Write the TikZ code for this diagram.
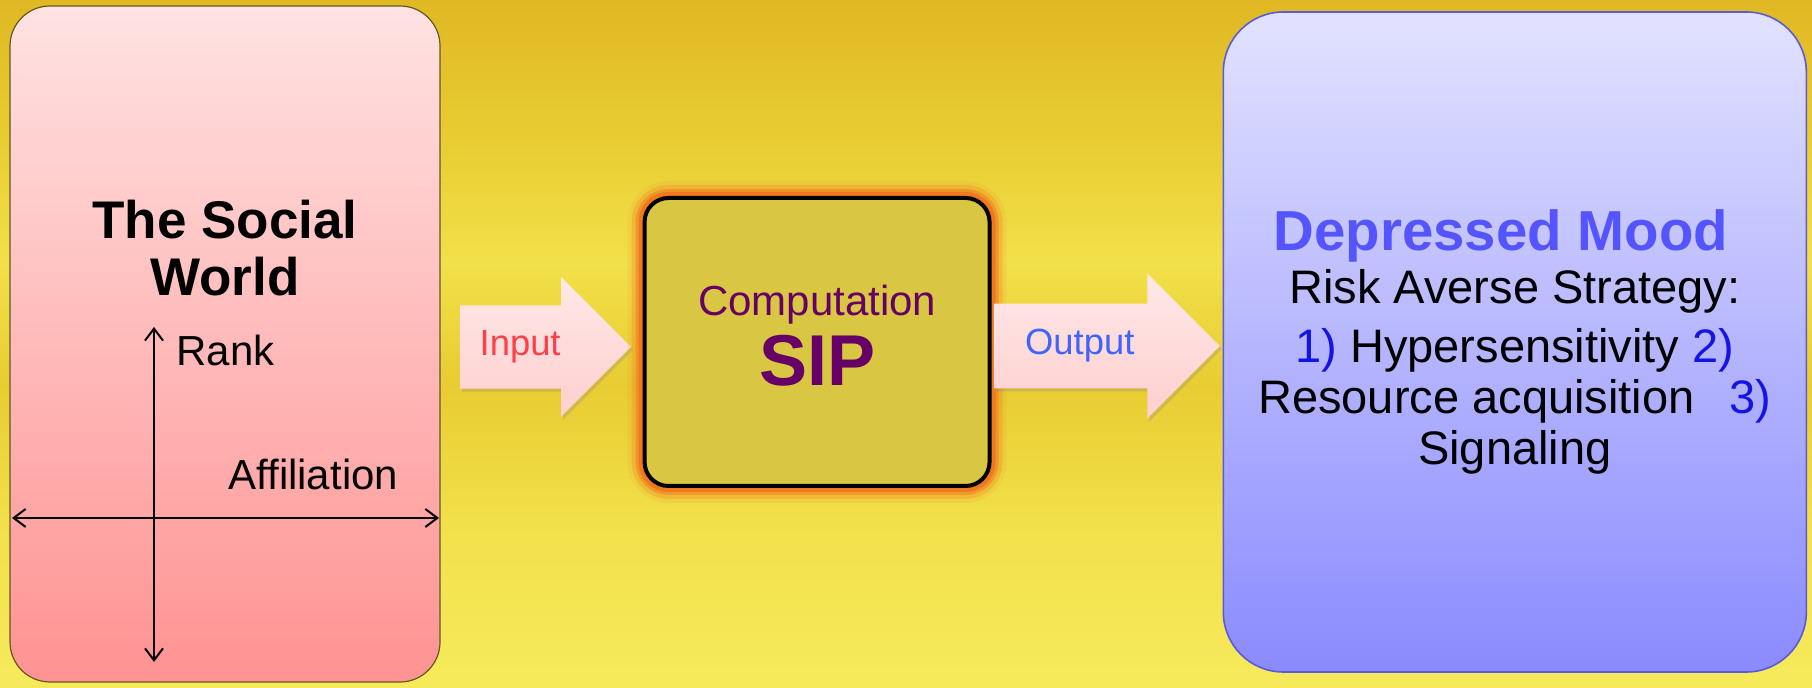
\documentclass[tikz,border=0pt]{standalone}
\usepackage{fontspec}
\setmainfont{Liberation Sans}
\usetikzlibrary{shapes, arrows, arrows.meta, positioning, shadows}

\definecolor{gold}{RGB}{224,184,36}
\definecolor{goldmid}{RGB}{232,204,50}
\definecolor{lemon}{RGB}{242,224,74}
\definecolor{lemonlow}{RGB}{246,234,92}
\definecolor{pinktop}{RGB}{255,226,226}
\definecolor{pinkbot}{RGB}{255,146,146}
\definecolor{lilactop}{RGB}{226,226,255}
\definecolor{lilacbot}{RGB}{138,138,255}
\definecolor{lilacedge}{RGB}{90,90,220}
\definecolor{mustard}{RGB}{217,198,66}
\definecolor{glow}{RGB}{240,120,30}
\definecolor{plum}{RGB}{102,0,102}
\definecolor{moodblue}{RGB}{85,85,255}
\definecolor{numblue}{RGB}{20,20,230}
\definecolor{inred}{RGB}{255,64,72}
\definecolor{outblue}{RGB}{64,100,255}

% yellow paper behind everything (only 25bp..75bp is seen, 75bp on top)
\pgfdeclareverticalshading{paper}{100bp}{color(0bp)=(lemonlow); color(25bp)=(lemonlow);
  color(37bp)=(lemon); color(47bp)=(goldmid); color(56bp)=(lemon); color(65bp)=(goldmid);
  color(75bp)=(gold); color(100bp)=(gold)}

\tikzstyle{world} = [rectangle, draw=black!55!mustard, line width=0.6pt, top color=pinktop,
    bottom color=pinkbot, rounded corners=20pt, minimum width=215pt, minimum height=338pt]
\tikzstyle{title} = [font=\fontsize{26.5}{28.5}\selectfont\bfseries, align=center]
\tikzstyle{axislabel} = [font=\fontsize{21}{24}\selectfont, anchor=west, inner sep=0pt]
\tikzstyle{axis} = [draw, line width=1pt, {Straight Barb[length=6pt,width=9pt]}-{Straight Barb[length=6pt,width=9pt]}]
\tikzstyle{flow} = [single arrow, single arrow head extend=14pt, minimum width=70pt,
    minimum height=85.5pt, top color=red!9, bottom color=red!19, inner xsep=0pt, inner ysep=12.3pt,
    font=\fontsize{18.2}{20}\selectfont, drop shadow={opacity=0.25, shadow xshift=1pt, shadow yshift=-1.5pt}]
\tikzstyle{engine} = [rectangle, draw=black, line width=2pt, fill=mustard, rounded corners=12pt,
    minimum width=172.5pt, minimum height=144pt, align=center, text=plum,
    preaction={draw=glow, line width=17pt, opacity=0.1},
    preaction={draw=glow, line width=13pt, opacity=0.25},
    preaction={draw=glow, line width=9pt, opacity=0.5},
    preaction={draw=glow, line width=6pt}]
\tikzstyle{mood} = [rectangle, draw=lilacedge, line width=0.8pt, top color=lilactop,
    bottom color=lilacbot, rounded corners=30pt, minimum width=291.5pt, minimum height=330pt,
    align=center, font=\fontsize{23.5}{25.5}\selectfont]

\begin{document}
\begin{tikzpicture}[x=0.5pt, y=-0.5pt, node distance = 2cm]
        \useasboundingbox (0,0) rectangle (1812,688);
        % Background
        \shade[shading=paper] (0,0) rectangle (1812,688);
        % Place nodes
        \node [world] (world) at (225,344) {};
        \node [flow, right=9.5pt of world.east, anchor=tail, yshift=-1.5pt] (input)
            {\textcolor{inred}{Input}\hspace*{4.5pt}};
        \node [engine, right=5.5pt of input.tip, yshift=2.5pt] (sip) {%
            {\fontsize{21}{24}\selectfont Computation}\\[4.4pt]
            {\fontsize{36}{36}\selectfont\bfseries SIP}\rule[-6.4pt]{0pt}{6.4pt}};
        \node [flow, right=1pt of sip.east, anchor=tail, yshift=-2pt, single arrow head extend=14.75pt,
            minimum width=72.5pt, minimum height=113pt] (output)
            {\textcolor{outblue}{Output}\hspace*{6pt}};
        \node [mood, right=1pt of output.tip, yshift=2pt] (mood) {%
            {\fontsize{28.2}{30}\selectfont\bfseries\textcolor{moodblue}{Depressed Mood}\hspace*{14pt}}\\[1pt]
            Risk Averse Strategy:\\[4pt]
            \textcolor{numblue}{1)} Hypersensitivity \textcolor{numblue}{2)}\\
            Resource acquisition\ \ \hspace{4.5pt}\textcolor{numblue}{3)}\\
            Signaling};
        % Labels in the left box
        \node [title] (heading) at (225,248) {The Social\\World};
        \node [axislabel] (rank) at (176,350) {Rank};
        \node [axislabel] (affil) at (228,474) {Affiliation};
        % Axes
        \coordinate (rankhi) at (154,327);
        \coordinate (ranklo) at (154,662);
        \coordinate (affleft) at (12,518);
        \coordinate (affright) at (439,518);
        \path [axis] (ranklo) -- (rankhi);
        \path [axis] (affleft) -- (affright);
\end{tikzpicture}
\end{document}
